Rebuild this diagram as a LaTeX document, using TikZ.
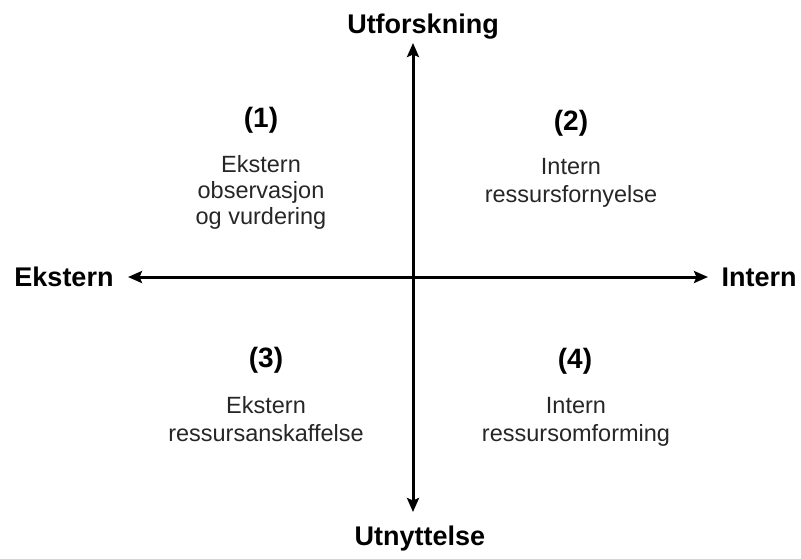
\documentclass[tikz,border=0pt]{standalone}
\usepackage{fontspec}
\setmainfont{Liberation Sans}
\usetikzlibrary{arrows.meta}

\tikzset{
  axis/.style={line width=3pt, {Stealth[length=14pt,width=12pt,inset=2.5pt]}-{Stealth[length=14pt,width=12pt,inset=2.5pt]}},
  axislabel/.style={font=\fontsize{27}{30}\selectfont\bfseries, inner sep=0pt, anchor=base},
  numlabel/.style={font=\fontsize{28}{30}\selectfont\bfseries, inner sep=0pt, anchor=base},
  quadtext/.style={font=\fontsize{23.5}{27}\selectfont, inner sep=0pt, anchor=base, text=black!85}
}

\begin{document}
\begin{tikzpicture}[x=1pt, y=-1pt]
  \useasboundingbox (0,0) rectangle (801,558);

  % axis end points
  \coordinate (W) at (128,277);
  \coordinate (E) at (708,277);
  \coordinate (N) at (413,43);
  \coordinate (S) at (413,512);

  \draw[axis] (W) -- (E);
  \draw[axis] (N) -- (S);

  % axis labels
  \node[axislabel] (top)    at (423,33)  {Utforskning};
  \node[axislabel] (bottom) at (420,545) {Utnyttelse};
  \node[axislabel] (left)   at (64,286)  {Ekstern};
  \node[axislabel] (right)  at (759,286) {Intern};

  % quadrant 1
  \node[numlabel] (n1)  at (261,127) {(1)};
  \node[quadtext] (q1a) at (261,172) {Ekstern};
  \node[quadtext] (q1b) at (261,198) {observasjon};
  \node[quadtext] (q1c) at (261,224) {og vurdering};

  % quadrant 2
  \node[numlabel] (n2)  at (571,130) {(2)};
  \node[quadtext] (q2a) at (571,174) {Intern};
  \node[quadtext] (q2b) at (571,202) {ressursfornyelse};

  % quadrant 3
  \node[numlabel] (n3)  at (266,367) {(3)};
  \node[quadtext] (q3a) at (266,413) {Ekstern};
  \node[quadtext] (q3b) at (266,441) {ressursanskaffelse};

  % quadrant 4
  \node[numlabel] (n4)  at (575,368) {(4)};
  \node[quadtext] (q4a) at (576,413) {Intern};
  \node[quadtext] (q4b) at (576,441) {ressursomforming};
\end{tikzpicture}
\end{document}
